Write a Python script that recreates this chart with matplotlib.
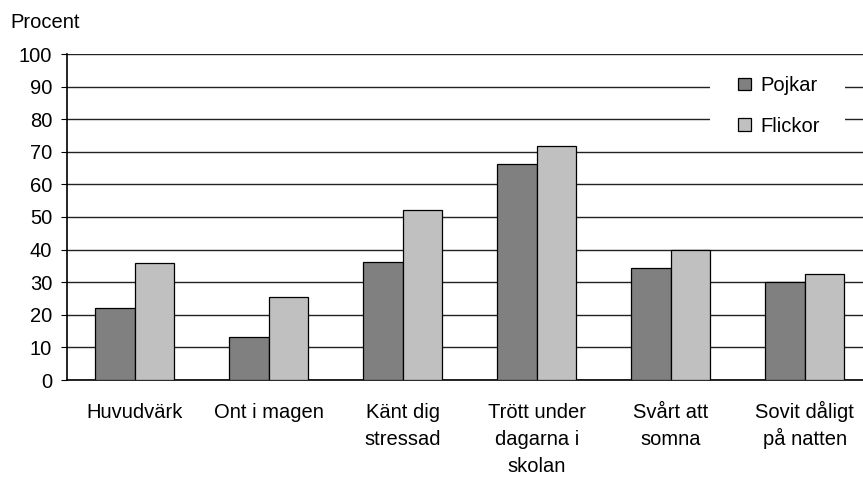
import matplotlib.pyplot as plt
from matplotlib.patches import Rectangle
import numpy as np

plt.rcParams['font.family'] = ['Liberation Sans', 'DejaVu Sans']

categories = ["Huvudvärk", "Ont i magen", "Känt dig\nstressad",
              "Trött under\ndagarna i\nskolan", "Svårt att\nsomna", "Sovit dåligt\npå natten"]
pojkar = [22.0, 13.3, 36.1, 66.3, 34.3, 30.0]
flickor = [36.0, 25.6, 52.0, 71.8, 39.8, 32.4]
yticks = [0, 10, 20, 30, 40, 50, 60, 70, 80, 90, 100]

W, H = 863, 478
FS = 14.5
fig = plt.figure(figsize=(W / 100, H / 100), dpi=100)
# axes area in pixels: left 66.5, top 54, bottom 380, right goes past the image edge
ax_h = 326
ax = fig.add_axes([66.5 / W, 1 - 380 / H, 804 / W, ax_h / H])

x = np.arange(len(categories))
bw = 0.295
ax.bar(x - bw / 2, pojkar, bw, color="#808080", edgecolor="black", linewidth=0.9,
       label="Pojkar", zorder=3)
ax.bar(x + bw / 2, flickor, bw, color="#c0c0c0", edgecolor="black", linewidth=0.9,
       label="Flickor", zorder=3)

ax.set_xlim(-0.51, len(categories) - 0.51)
ax.set_ylim(0, 100)
ax.set_yticks(yticks)
ax.set_xticks([])
ax.tick_params(axis="y", length=4.3, width=0.8, pad=6, labelsize=FS, direction="out")
ax.yaxis.grid(True, color="#222222", linewidth=1, zorder=0)
ax.set_axisbelow(True)

# category labels, one line at a time (baselines 27 px apart)
for i, lab in enumerate(categories):
    for j, line in enumerate(lab.split("\n")):
        y_px = 418 + 27 * j
        ax.text(x[i], -(y_px - 380) / ax_h, line, transform=ax.get_xaxis_transform(),
                ha="center", va="baseline", fontsize=FS)

for s in ["right", "top"]:
    ax.spines[s].set_visible(False)
ax.spines["left"].set_linewidth(1.2)
ax.spines["bottom"].set_linewidth(1.2)

fig.text(10 / W, 1 - 28 / H, "Procent", fontsize=FS, va="baseline", ha="left")

# white box behind the legend that hides the gridlines
ax.add_patch(Rectangle((710 / W, 1 - 145 / H), 135 / W, 80 / H, transform=fig.transFigure,
                       facecolor="white", edgecolor="none", zorder=4, clip_on=False))
leg = ax.legend(loc="upper left", bbox_to_anchor=(738 / W, 1 - 76 / H),
                bbox_transform=fig.transFigure, frameon=False, fontsize=FS,
                handlelength=0.65, handleheight=0.58, handletextpad=0.45,
                labelspacing=1.07, borderpad=0, borderaxespad=0)
leg.set_zorder(5)

fig.savefig("out.png", dpi=100)
